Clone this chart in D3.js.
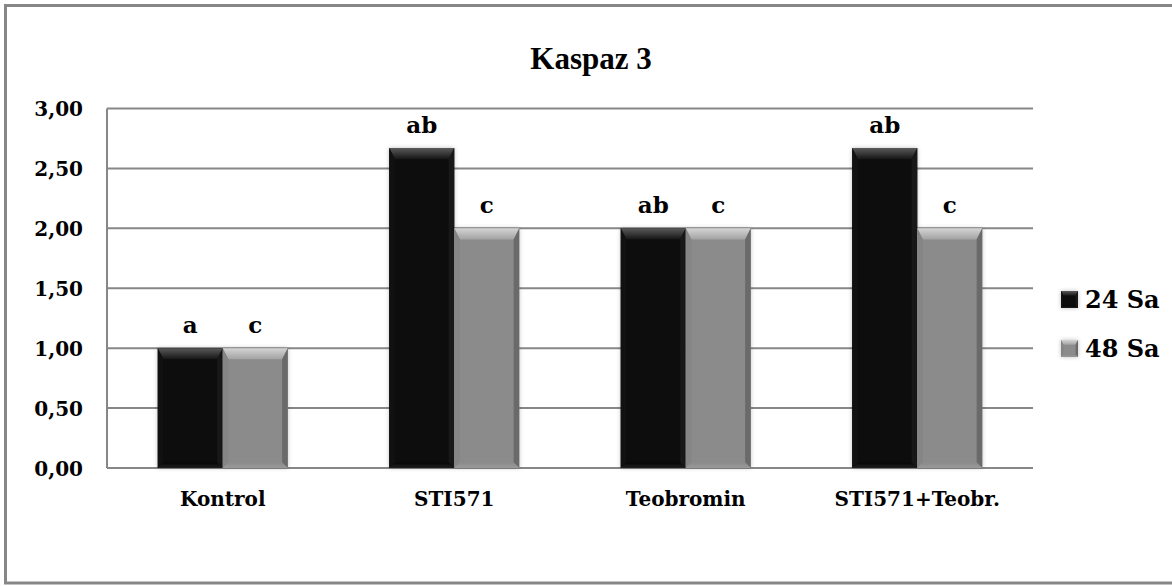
<!DOCTYPE html>
<html><head><meta charset="utf-8">
<script src="https://cdn.jsdelivr.net/npm/d3@7"></script>
<style>
html,body{margin:0;padding:0;background:#fff;}
svg{display:block;}
text{font-weight:bold;fill:#000;}
</style></head><body>
<svg id="chart" width="1172" height="586"></svg>
<script>
const title = "Kaspaz 3";
const categories = ["Kontrol", "STI571", "Teobromin", "STI571+Teobr."];
const seriesNames = ["24 Sa", "48 Sa"];
const values24 = [1.00, 2.67, 2.00, 2.67];
const values48 = [1.00, 2.00, 2.00, 2.00];
const labels24 = ["a", "ab", "ab", "ab"];
const labels48 = ["c", "c", "c", "c"];
const yTicks = [0, 0.5, 1, 1.5, 2, 2.5, 3];

const SERIF = "DejaVu Serif";
const svg = d3.select("#chart");
const m = {left:107, right:1033, top:108.5, bottom:468};

// frame
svg.append("rect").attr("x",5.5).attr("y",5.5).attr("width",1180).attr("height",577.5)
  .attr("fill","#fff").attr("stroke","#878787").attr("stroke-width",3);

const defs = svg.append("defs");
const f = defs.append("filter").attr("id","sh").attr("x","-20%").attr("y","-20%").attr("width","140%").attr("height","140%");
f.append("feDropShadow").attr("dx",0).attr("dy",0).attr("stdDeviation",2).attr("flood-color","#000").attr("flood-opacity",0.25);

function grad(id, c1, c2){
  const g = defs.append("linearGradient").attr("id",id).attr("x1",0).attr("y1",0).attr("x2",0).attr("y2",1);
  g.append("stop").attr("offset","0%").attr("stop-color",c1);
  g.append("stop").attr("offset","100%").attr("stop-color",c2);
}
grad("topK","#5a5a5a","#151515");
grad("topG","#d4d4d4","#a2a2a2");
grad("botK","#050505","#202020");
grad("botG","#8a8a8a","#9a9a9a");

const styles = [
  {base:"#070707", top:"url(#topK)", left:"#111", right:"#181818", bot:"url(#botK)"},
  {base:"#8b8b8b", top:"url(#topG)", left:"#858585", right:"#6a6a6a", bot:"url(#botG)"}
];

const x = d3.scaleBand().domain(categories).range([m.left, m.right]).paddingInner(0.4384).paddingOuter(0.2192);
const xs = d3.scaleBand().domain(seriesNames).range([0, x.bandwidth()]);
const y = d3.scaleLinear().domain([0, 3]).range([m.bottom, m.top]);

function stext(g, tx, ty, str, size, anchor, font){
  return g.append("text")
    .attr("font-family", font)
    .attr("font-size", size)
    .attr("x", tx).attr("y", ty)
    .attr("text-anchor", anchor)
    .text(str);
}

// gridlines
svg.append("g").selectAll("line").data(yTicks).join("line")
  .attr("x1", m.left).attr("x2", m.right)
  .attr("y1", d=>y(d)).attr("y2", d=>y(d))
  .attr("stroke","#878787").attr("stroke-width",2);
svg.append("line").attr("x1",m.left).attr("x2",m.left).attr("y1",y(3)).attr("y2",y(0))
  .attr("stroke","#878787").attr("stroke-width",2);

// y tick labels
const fmt = d => d3.format(".2f")(d).replace(".", ",");
const tg = svg.append("g");
yTicks.forEach(d => stext(tg, 83, y(d)+7.5, fmt(d), 20, "end", SERIF));

// title
stext(svg, 591, 69, title, 31, "middle", "Liberation Serif");

function bevelBar(g, x0, w, yTop, yBot, st, b){
  const bt = Math.min(b*1.6, (yBot-yTop)/2), bs = b*0.8;
  g.append("rect").attr("x",x0).attr("y",yTop).attr("width",w).attr("height",yBot-yTop).attr("fill",st.base).attr("filter","url(#sh)");
  g.append("polygon").attr("points",[[x0,yTop],[x0+w,yTop],[x0+w-bs,yTop+bt],[x0+bs,yTop+bt]].map(p=>p.join(",")).join(" ")).attr("fill",st.top);
  g.append("polygon").attr("points",[[x0,yTop],[x0+bs,yTop+bt],[x0+bs,yBot-bs],[x0,yBot]].map(p=>p.join(",")).join(" ")).attr("fill",st.left);
  g.append("polygon").attr("points",[[x0+w,yTop],[x0+w-bs,yTop+bt],[x0+w-bs,yBot-bs],[x0+w,yBot]].map(p=>p.join(",")).join(" ")).attr("fill",st.right);
  g.append("polygon").attr("points",[[x0,yBot],[x0+bs,yBot-bs],[x0+w-bs,yBot-bs],[x0+w,yBot]].map(p=>p.join(",")).join(" ")).attr("fill",st.bot);
}

const seriesVals = [values24, values48];
const seriesLabs = [labels24, labels48];
const barsG = svg.append("g");
const labG = svg.append("g");
categories.forEach((c, i) => {
  seriesNames.forEach((s, j) => {
    const v = seriesVals[j][i];
    const x0 = x(c) + xs(s);
    bevelBar(barsG, x0, xs.bandwidth(), y(v), y(0), styles[j], 7);
    stext(labG, x0 + xs.bandwidth()/2, y(v) - 15, seriesLabs[j][i], 23, "middle", SERIF);
  });
});

// category labels
const cg = svg.append("g");
categories.forEach(c => stext(cg, x(c) + x.bandwidth()/2, 506, c, 20, "middle", SERIF));

// legend
const lg = svg.append("g");
seriesNames.forEach((s, j) => {
  const by = 308 + j*49;
  bevelBar(lg, 1061, 17, by-17, by, styles[j], 3);
  stext(lg, 1085, by, s, 24, "start", SERIF);
});
</script>
</body></html>
